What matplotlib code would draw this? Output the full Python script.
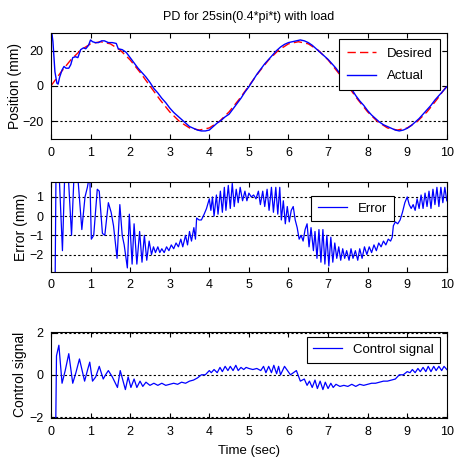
import numpy as np
import matplotlib.pyplot as plt
from matplotlib.pyplot import MultipleLocator

plt.rcParams['font.family'] = ['Liberation Sans', 'DejaVu Sans']

# Заданная траектория, отсчёты через 0.25 с
t_des = np.arange(0, 10.01, 0.25)
x_des = [0, 7.7, 14.7, 20.2, 23.8, 25, 23.8, 20.2, 14.7, 7.7,
         0, -7.7, -14.7, -20.2, -23.8, -25, -23.8, -20.2, -14.7, -7.7,
         0, 7.7, 14.7, 20.2, 23.8, 25, 23.8, 20.2, 14.7, 7.7,
         0, -7.7, -14.7, -20.2, -23.8, -25, -23.8, -20.2, -14.7, -7.7, 0]

# Фактическое положение
t_act = [0.00, 0.05, 0.10, 0.15, 0.18, 0.22, 0.28, 0.33, 0.38, 0.45, 0.50, 0.55, 0.62, 0.68,
         0.75, 0.82, 0.88, 0.95, 1.00, 1.05, 1.12, 1.20, 1.28, 1.35, 1.45, 1.55, 1.65, 1.70,
         1.80, 1.90, 2.0, 2.1, 2.2, 2.3, 2.4, 2.5, 2.6, 2.7, 2.8, 2.9, 3.0, 3.1, 3.2, 3.3,
         3.4, 3.5, 3.6, 3.7, 3.8, 3.9, 4.0, 4.1, 4.2, 4.3, 4.4, 4.5, 4.6, 4.7, 4.8, 4.9,
         5.0, 5.1, 5.2, 5.3, 5.4, 5.5, 5.6, 5.7, 5.8, 5.9, 6.0, 6.1, 6.2, 6.3, 6.4, 6.5,
         6.6, 6.7, 6.8, 6.9, 7.0, 7.1, 7.2, 7.3, 7.4, 7.5, 7.6, 7.7, 7.8, 7.9, 8.0, 8.1,
         8.2, 8.3, 8.4, 8.5, 8.6, 8.7, 8.8, 8.9, 9.0, 9.1, 9.2, 9.3, 9.4, 9.5, 9.6, 9.7,
         9.8, 9.9, 10.0]
x_act = [34, 25, 8, 1.5, 1, 5, 9, 11, 10, 10, 12, 16, 16.5, 16,
         20.5, 21.5, 21, 23, 26, 25, 24.5, 24.5, 25.5, 25.5, 24.5, 24.5, 24, 21,
         20.5, 19, 16, 13, 10, 7.5, 5, 2, -1.5, -4, -7, -9.5, -12.5, -15, -17, -19,
         -21, -23, -24, -25, -25.5, -25.5, -25, -23, -21, -19.5, -17.5, -16, -13, -10, -7, -3.5,
         -0.5, 3, 6.5, 9.5, 12.5, 15, 17.5, 20, 22, 23.5, 24.5, 25, 25.5, 26, 25.5, 24.5,
         23, 21, 19, 17, 15, 12.5, 10, 7, 4, 1, -2, -5.5, -8.5, -11, -14, -16.5,
         -18.5, -20.5, -22, -23, -24, -25, -25.5, -25, -24, -22.5, -20.5, -18.5, -16, -13.5, -11, -8,
         -5.5, -3, -0.5]

# Ошибка
t_err = [0.00, 0.10, 0.13, 0.20, 0.29, 0.36, 0.44, 0.52, 0.60, 0.68, 0.78, 0.86, 0.92, 0.98,
         1.02, 1.08, 1.17, 1.22, 1.30, 1.36, 1.45, 1.52, 1.58, 1.67, 1.74, 1.80, 1.85, 1.93,
         1.98, 2.05, 2.10, 2.17, 2.24, 2.30, 2.36, 2.42, 2.48, 2.54, 2.59, 2.64, 2.70, 2.75,
         2.80, 2.86, 2.92, 2.98, 3.04, 3.10, 3.16, 3.22, 3.28, 3.33, 3.40, 3.45, 3.50, 3.55,
         3.61, 3.65, 3.68, 3.74, 3.80, 3.87, 3.93, 4.00, 4.04, 4.08, 4.12, 4.18, 4.22, 4.28,
         4.33, 4.38, 4.42, 4.48, 4.53, 4.58, 4.63, 4.68, 4.73, 4.78, 4.84, 4.90, 4.95, 5.00,
         5.06, 5.12, 5.18, 5.24, 5.29, 5.35, 5.40, 5.46, 5.51, 5.57, 5.62, 5.68, 5.73, 5.78,
         5.82, 5.87, 5.92, 5.97, 6.02, 6.07, 6.12, 6.17, 6.22, 6.27, 6.32, 6.37, 6.42, 6.47,
         6.52, 6.57, 6.63, 6.67, 6.72, 6.77, 6.82, 6.87, 6.92, 6.97, 7.02, 7.07, 7.12, 7.17,
         7.22, 7.27, 7.32, 7.37, 7.42, 7.47, 7.53, 7.58, 7.63, 7.69, 7.75, 7.80, 7.86, 7.92,
         7.98, 8.04, 8.10, 8.16, 8.22, 8.28, 8.34, 8.40, 8.46, 8.52, 8.58, 8.62, 8.65, 8.70,
         8.76, 8.82, 8.88, 8.94, 9.00, 9.05, 9.10, 9.15, 9.20, 9.25, 9.30, 9.35, 9.40, 9.45,
         9.50, 9.55, 9.60, 9.65, 9.70, 9.75, 9.80, 9.85, 9.90, 9.95, 10.00]
err = [-30, -5, 3, 2.5, -1.8, 3, 2, -1.0, 3, 2, -0.7, 1.0, 1.5, 2.2,
       -1.2, -1.0, 1.4, 1.3, -0.9, -1.0, 0.7, 0.2, -0.5, -2.2, 0.6, -1.0, -1.5, -2.7,
       0.1, -2.5, -0.4, -2.5, -0.8, -2.4, -1.0, -2.3, -1.3, -2.0, -1.6, -1.9, -1.6, -1.9,
       -1.7, -1.9, -1.6, -1.8, -1.5, -1.7, -1.4, -1.6, -1.2, -1.6, -1.0, -1.5, -0.8, -1.3,
       -0.6, -1.2, -0.1, -0.2, -0.2, 0.1, 0.4, 0.9, 0.3, 1.0, 0.0, 1.1, 0.1, 1.3,
       0.2, 1.5, 0.3, 1.6, 0.4, 1.7, 0.5, 1.4, 0.7, 1.5, 0.8, 1.3, 0.8, 1.2,
       1.0, 1.1, 0.9, 1.3, 0.6, 1.3, 0.5, 1.4, 0.3, 1.5, 0.2, 1.5, 0.1, 1.5,
       -0.2, 0.8, -0.4, 0.5, -0.3, 0.3, 0.5, -0.2, -0.6, -1.2, -1.0, -1.3, -0.7, -0.4,
       -1.6, -0.6, -1.8, -0.8, -2.2, -0.7, -2.4, -0.7, -2.5, -1.0, -2.6, -1.1, -2.4, -1.4,
       -2.2, -1.6, -2.3, -1.7, -2.2, -1.8, -2.3, -1.7, -2.2, -1.8, -2.3, -1.7, -2.2, -1.6,
       -2.0, -1.6, -1.9, -1.5, -1.8, -1.4, -1.6, -1.3, -1.5, -1.2, -1.3, -1.1, -0.5, -0.3,
       -0.4, -0.2, 0.2, 0.7, 1.0, 0.6, 0.4, 0.6, 0.3, 0.9, 0.4, 1.1, 0.4, 1.2,
       0.5, 1.3, 0.4, 1.4, 0.6, 1.5, 0.5, 1.5, 0.7, 1.5, 0.8]

# Управляющий сигнал
t_u = [0.00, 0.12, 0.14, 0.20, 0.28, 0.36, 0.45, 0.55, 0.63, 0.72, 0.85, 0.92, 0.98, 1.05,
       1.13, 1.22, 1.32, 1.38, 1.45, 1.55, 1.68, 1.75, 1.88, 1.95, 2.02, 2.10, 2.17, 2.25,
       2.32, 2.40, 2.50, 2.60, 2.70, 2.80, 2.90, 3.00, 3.10, 3.20, 3.30, 3.40, 3.50, 3.60,
       3.70, 3.80, 3.90, 4.00, 4.05, 4.12, 4.20, 4.27, 4.33, 4.40, 4.47, 4.53, 4.60, 4.67,
       4.73, 4.80, 4.87, 4.93, 5.00, 5.10, 5.20, 5.30, 5.37, 5.43, 5.50, 5.57, 5.63, 5.70,
       5.75, 5.80, 5.90, 6.05, 6.20, 6.30, 6.40, 6.47, 6.53, 6.60, 6.67, 6.73, 6.80, 6.87,
       6.93, 7.00, 7.07, 7.13, 7.20, 7.30, 7.40, 7.50, 7.60, 7.70, 7.80, 7.90, 8.00, 8.10,
       8.20, 8.30, 8.40, 8.50, 8.60, 8.70, 8.80, 8.90, 9.00, 9.07, 9.13, 9.20, 9.27, 9.33,
       9.40, 9.47, 9.53, 9.60, 9.67, 9.73, 9.80, 9.87, 9.93, 10.00]
u = [-2.5, -2.5, 0.9, 1.4, -0.4, 0.2, 1.0, -0.4, 0.1, 0.75, -0.3, 0.2, 0.6, -0.3,
     -0.1, 0.4, -0.2, 0.0, 0.2, -0.1, -0.6, 0.2, -0.7, -0.1, -0.6, -0.2, -0.6, -0.3,
     -0.55, -0.35, -0.5, -0.4, -0.5, -0.4, -0.5, -0.45, -0.4, -0.45, -0.35, -0.4, -0.3, -0.25,
     -0.15, 0.0, 0.0, 0.2, 0.1, 0.25, 0.1, 0.35, 0.15, 0.4, 0.2, 0.4, 0.2, 0.45,
     0.2, 0.35, 0.25, 0.35, 0.3, 0.25, 0.3, 0.2, 0.4, 0.1, 0.4, 0.1, 0.45, 0.05,
     0.4, 0.0, 0.4, 0.0, 0.2, -0.3, -0.2, -0.5, -0.3, -0.6, -0.25, -0.65, -0.3, -0.7,
     -0.35, -0.65, -0.4, -0.6, -0.45, -0.55, -0.5, -0.55, -0.45, -0.55, -0.45, -0.5, -0.45, -0.4,
     -0.4, -0.35, -0.3, -0.3, -0.25, -0.2, 0.0, 0.0, 0.15, 0.1, 0.25, 0.1, 0.3, 0.15,
     0.35, 0.15, 0.4, 0.15, 0.4, 0.2, 0.4, 0.2, 0.4, 0.25]

fig = plt.figure(figsize=(4.55, 4.63), dpi=100)
ax1 = fig.add_axes([0.112, 0.700, 0.870, 0.229])
ax2 = fig.add_axes([0.112, 0.413, 0.870, 0.194])
ax3 = fig.add_axes([0.112, 0.097, 0.870, 0.187])

ax1.plot(t_des, x_des, color='r', ls=(0, (6, 3)), lw=1, label='Desired')
ax1.plot(t_act, x_act, color='b', lw=1, label='Actual')
ax2.plot(t_err, err, color='b', lw=0.9, label='Error')
ax3.plot(t_u, u, color='b', lw=0.9, label='Control signal')

ax1.set_ylim(-30, 30)
ax1.yaxis.set_major_locator(MultipleLocator(20))
ax2.set_ylim(-2.9, 1.78)
ax2.yaxis.set_major_locator(MultipleLocator(1))
ax3.set_ylim(-2.05, 2.05)
ax3.yaxis.set_major_locator(MultipleLocator(2))

for ax in (ax1, ax2, ax3):
    ax.set_xlim(0, 10)
    ax.xaxis.set_major_locator(MultipleLocator(1))
    ax.tick_params(direction='in', top=True, right=True, length=3.5, labelsize=9, pad=5.5)
    ax.grid(axis='y', color='k', ls=(0, (2, 2)), lw=0.8)
    for s in ax.spines.values():
        s.set_linewidth(0.8)

ax1.set_title('PD for 25sin(0.4*pi*t) with load', fontsize=9, pad=9)
ax1.set_ylabel('Position (mm)', fontsize=10)
ax2.set_ylabel('Error (mm)', fontsize=10)
ax3.set_ylabel('Control signal', fontsize=10)
ax3.set_xlabel('Time (sec)', fontsize=9.5, labelpad=5)
ax1.yaxis.set_label_coords(-0.072, 0.5)
ax2.yaxis.set_label_coords(-0.058, 0.5)
ax3.yaxis.set_label_coords(-0.060, 0.5)

lg = ax1.legend(loc='upper right', fontsize=9.5, fancybox=False, framealpha=1, edgecolor='k',
                borderpad=0.6, labelspacing=0.8, handlelength=2.2, borderaxespad=0.5)
lg.get_frame().set_linewidth(0.8)
lg = ax2.legend(loc='upper right', bbox_to_anchor=(0.882, 0.92), fontsize=9.5, fancybox=False,
                framealpha=1, edgecolor='k', borderpad=0.5, handlelength=2.2, borderaxespad=0.5)
lg.get_frame().set_linewidth(0.8)
lg = ax3.legend(loc='upper right', bbox_to_anchor=(1.0, 1.01), fontsize=9.5, fancybox=False,
                framealpha=1, edgecolor='k', borderpad=0.5, handlelength=2.2, borderaxespad=0.5)
lg.get_frame().set_linewidth(0.8)

plt.savefig('out.png', dpi=100)
